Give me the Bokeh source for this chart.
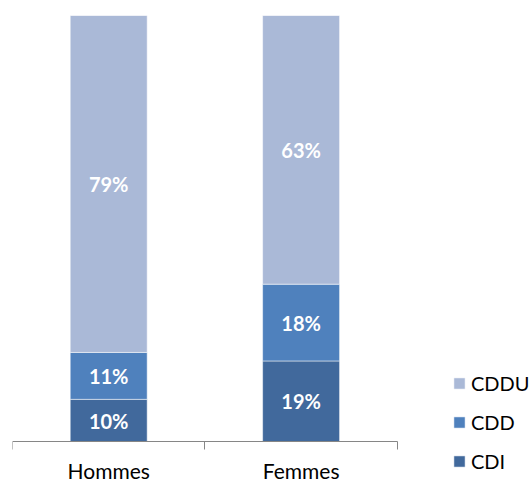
import numpy as np
from bokeh.plotting import figure
from bokeh.models import ColumnDataSource, Range1d, FixedTicker, Legend, LegendItem
from bokeh.core.properties import value
from bokeh.embed import file_html
from bokeh.resources import INLINE

categories = ["Hommes", "Femmes"]
series = ["CDI", "CDD", "CDDU"]
cdi = [10, 19]
cdd = [11, 18]
cddu = [79, 63]
colors = ["#41699C", "#4F81BD", "#AAB9D7"]

FONT = "Lato"

xpos = np.arange(len(categories)) + 0.5
src = ColumnDataSource(dict(x=xpos, CDI=cdi, CDD=cdd, CDDU=cddu))

p = figure(width=529, height=482, output_backend="svg", toolbar_location=None,
           x_range=Range1d(0, 517 / 192.4), y_range=Range1d(-9.5, 100),
           min_border_left=12, min_border_right=0, min_border_top=15, min_border_bottom=0)
p.outline_line_color = None
p.grid.visible = False
p.yaxis.visible = False

renderers = p.vbar_stack(series, x="x", width=0.4, source=src, color=colors,
                         line_color="white", line_alpha=0.5, line_width=1)

# labels at segment centers
vals = np.array([cdi, cdd, cddu], dtype=float)
cum = np.cumsum(vals, axis=0)
mids = cum - vals / 2
lx, ly, lt = [], [], []
for i in range(len(series)):
    for j in range(len(categories)):
        lx.append(xpos[j]); ly.append(mids[i, j]); lt.append(f"{int(vals[i, j])}%")
p.text(x=lx, y=ly, text=lt, text_align="center", text_baseline="middle",
       text_color="white", text_font=value(FONT), text_font_style="bold",
       text_font_size="20px")

ax = p.xaxis[0]
ax.fixed_location = 0
ax.bounds = (0, len(categories))
ax.ticker = FixedTicker(ticks=list(xpos), minor_ticks=list(range(len(categories) + 1)))
ax.major_label_overrides = {float(x): c for x, c in zip(xpos, categories)}
ax.major_tick_line_color = None
ax.major_tick_out = 0
ax.major_tick_in = 0
ax.minor_tick_out = 8
ax.minor_tick_in = 0
ax.minor_tick_line_color = "#868686"
ax.axis_line_color = "#868686"
ax.axis_line_width = 1
ax.major_label_standoff = 8
ax.major_label_text_font = FONT
ax.major_label_text_font_size = "21px"
ax.major_label_text_color = "#000000"

items = [LegendItem(label=s, renderers=[r]) for s, r in zip(series, renderers)][::-1]
legend = Legend(items=items, location=(440, 9), orientation="vertical")
legend.glyph_width = 14
legend.glyph_height = 14
legend.label_height = 14
legend.label_standoff = 5
legend.spacing = 15
legend.padding = 0
legend.margin = 0
legend.border_line_color = None
legend.background_fill_alpha = 0
legend.label_text_font = FONT
legend.label_text_font_size = "20px"
legend.label_text_color = "#000000"
p.add_layout(legend)

open("out.html", "w").write(file_html(p, INLINE))
